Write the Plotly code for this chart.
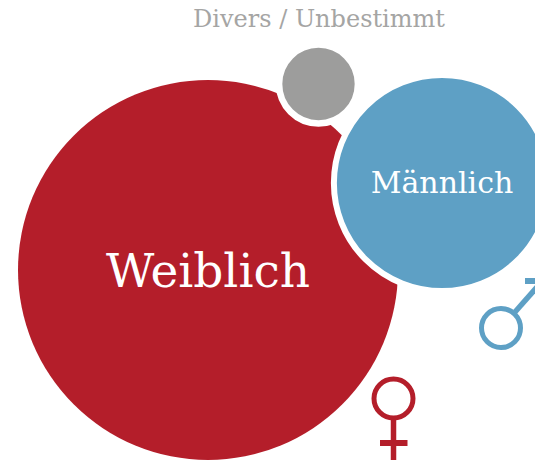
import plotly.graph_objects as go

categories = ["Weiblich", "Männlich", "Divers / Unbestimmt"]
shares = [74.5, 22.8, 2.7]
center_x = [208, 442, 318.5]
center_y = [270, 183, 84]
halo = [0, 6, 6.5]
colors = ["#B41E2A", "#5EA0C5", "#9D9D9C"]
label_x = [208, 442, 319]
label_y = [275, 185, 21]
label_sizes = [47, 30, 24]
label_colors = ["#FFFFFF", "#FFFFFF", "#A5A5A4"]
FONT = "DejaVu Serif"

W, H = 535, 463
K = 380 / 74.5 ** 0.5   # px of diameter per sqrt(share)
diam = [K * s ** 0.5 + h for s, h in zip(shares, halo)]

fig = go.Figure()
fig.add_trace(go.Scatter(
    x=center_x, y=center_y, mode="markers", hoverinfo="skip",
    marker=dict(size=diam, sizemode="diameter", color=colors, opacity=1,
                line=dict(color="#FFFFFF", width=halo)),
))
fig.add_trace(go.Scatter(
    x=label_x, y=label_y, mode="text", text=categories, hoverinfo="skip",
    textposition="middle center",
    textfont=dict(family=FONT, size=label_sizes, color=label_colors),
))

red, blue = colors[0], colors[1]
def ring(cx, cy, r, c):
    fig.add_shape(type="circle", x0=cx-r, x1=cx+r, y0=cy-r, y1=cy+r,
                  line=dict(color=c, width=5), fillcolor="rgba(0,0,0,0)")
def seg(x0, y0, x1, y1, c, w):
    fig.add_shape(type="line", x0=x0, y0=y0, x1=x1, y1=y1, line=dict(color=c, width=w))

ring(393.5, 398.5, 19.5, red)
seg(393.5, 420, 393.5, 460, red, 5.5)
seg(380, 443, 407.5, 443, red, 6)
ring(501, 328, 19.5, blue)
seg(515, 312, 537, 287, blue, 5.5)
seg(525, 281, 537, 281, blue, 6)

fig.update_layout(
    width=W, height=H, margin=dict(l=0, r=0, t=0, b=0), showlegend=False,
    paper_bgcolor="#FFFFFF", plot_bgcolor="#FFFFFF",
    xaxis=dict(range=[0, W], visible=False, fixedrange=True),
    yaxis=dict(range=[H, 0], visible=False, fixedrange=True),
)
fig.write_html("out.html", config=dict(displayModeBar=False),
               post_script="document.body.style.margin='0';")
